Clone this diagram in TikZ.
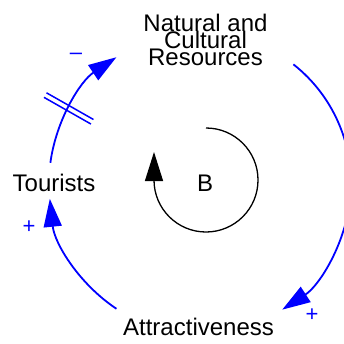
\documentclass[tikz,border=0pt]{standalone}
\usepackage{fontspec}
\setmainfont{Liberation Sans}
\usetikzlibrary{arrows.meta,calc}
\begin{document}
\begin{tikzpicture}[x=1pt,y=1pt,
  var/.style={font=\fontsize{24}{17}\selectfont, inner sep=0pt, text=black},
  link/.style={draw=blue, line width=1.8pt, -{Triangle[length=28pt,width=18pt]}},
  loopline/.style={draw=black, line width=1.3pt, -{Triangle[length=29pt,width=18pt]}},
  delaymark/.style={draw=blue, line width=1.5pt},
  sign/.style={font=\fontsize{22}{22}\selectfont, text=blue, inner sep=0pt}]
\lineskiplimit=-50pt\relax
\useasboundingbox (0,0) rectangle (344,343);
\clip (0,0) rectangle (344,343);
\coordinate (O) at (200,160);
% variables
\node[var, align=center] (res) at (205.5,303) {Natural and\\Cultural\\Resources};
\node[var, anchor=base] (tou) at (54,152) {Tourists};
\node[var, anchor=base] (att) at (198.5,8) {Attractiveness};
\node[var, anchor=base] (B) at (205,152) {B};
% connector end points on the loop circle
\coordinate (resout) at ($(O)+(51.8:151)$);
\coordinate (attout) at ($(O)+(236.4:151)$);
\coordinate (touout) at ($(O)+(172.3:151)$);
% connectors
\draw[link] (resout) arc[start angle=51.8, end angle=-57, radius=151];
\draw[link] (attout) arc[start angle=236.4, end angle=186, radius=151];
\draw[link] (touout) arc[start angle=172.3, end angle=123.6, radius=151];
% delay mark
\begin{scope}[shift={(O)}, rotate=150.4]
  \draw[delaymark] (124,-2.6) -- (178,-2.6) (124,2.6) -- (178,2.6);
\end{scope}
% loop symbol
\coordinate (loopstart) at (206,215);
\draw[loopline] (loopstart) arc[start angle=90, end angle=-180, radius=52] -- ++(0,28);
% polarities
\node[sign] (m1) at (76,287) {\textendash};
\node[sign] (p1) at (29,116) {+};
\node[sign] (p2) at (312,28) {+};
\end{tikzpicture}
\end{document}
